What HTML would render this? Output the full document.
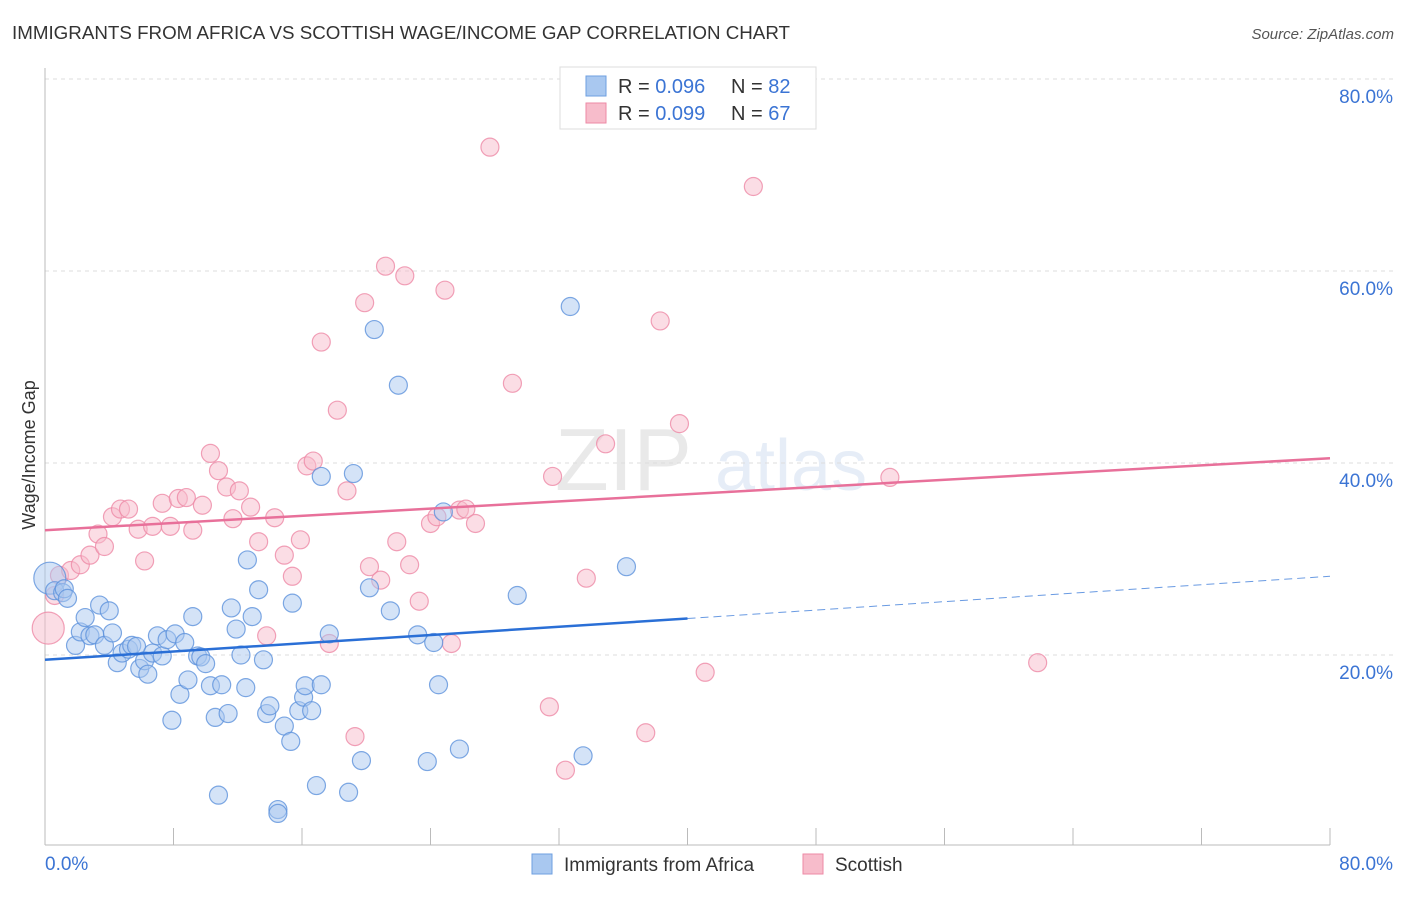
<!DOCTYPE html>
<html><head><meta charset="utf-8"><style>
body{margin:0;background:#fff;font-family:"Liberation Sans",sans-serif;}
svg text{font-family:"Liberation Sans",sans-serif;}
</style></head><body>
<svg id="chart" width="1406" height="892" viewBox="0 0 1406 892">
<text x="12" y="39" font-size="18" fill="#333" textLength="778" lengthAdjust="spacingAndGlyphs">IMMIGRANTS FROM AFRICA VS SCOTTISH WAGE/INCOME GAP CORRELATION CHART</text>
<text x="1394" y="39" font-size="15" fill="#555" font-style="italic" text-anchor="end">Source: ZipAtlas.com</text>
<g opacity="0.12"><text x="555" y="490" font-size="88" font-family="Liberation Serif" fill="#555">ZIP</text><text x="715" y="490" font-size="72" fill="#3b6fc0">atlas</text></g>
<g id="grid"></g><g id="axes"></g><g id="pts"></g><g id="lines"></g>
<text x="35" y="455" font-size="18" fill="#333" text-anchor="middle" transform="rotate(-90 35 455)">Wage/Income Gap</text>
<g>
<rect x="560" y="67" width="256" height="62" fill="#fff" stroke="#ddd"/>
<rect x="586" y="76" width="20" height="20" fill="#a9c8f0" stroke="#6e9fe0"/>
<rect x="586" y="103" width="20" height="20" fill="#f7bccb" stroke="#ee8aa6"/>
<text x="618" y="93" font-size="20" fill="#333">R = <tspan fill="#3b74d4">0.096</tspan></text>
<text x="731" y="93" font-size="20" fill="#333">N = <tspan fill="#3b74d4">82</tspan></text>
<text x="618" y="120" font-size="20" fill="#333">R = <tspan fill="#3b74d4">0.099</tspan></text>
<text x="731" y="120" font-size="20" fill="#333">N = <tspan fill="#3b74d4">67</tspan></text>
</g>
<g>
<rect x="532" y="854" width="20" height="20" fill="#a9c8f0" stroke="#6e9fe0"/>
<text x="564" y="871" font-size="19" fill="#333">Immigrants from Africa</text>
<rect x="803" y="854" width="20" height="20" fill="#f7bccb" stroke="#ee8aa6"/>
<text x="835" y="871" font-size="19" fill="#333">Scottish</text>
</g>
</svg>
<script>
const yTicks=[20,40,60,80];
const xLabels=["0.0%","80.0%"];
const blueX=[0.3,0.6,1.1,1.2,1.4,1.9,2.2,2.5,2.8,3.1,3.4,3.7,4.0,4.2,4.5,4.8,5.2,5.4,5.7,5.9,6.2,6.4,6.7,7.0,7.3,7.6,7.9,8.1,8.4,8.7,8.9,9.2,9.5,9.7,10.0,10.3,10.6,10.8,11.0,11.4,11.6,11.9,12.2,12.5,12.6,12.9,13.3,13.6,13.8,14.0,14.9,15.3,15.4,15.8,16.1,16.2,16.6,16.9,17.2,17.2,17.7,18.9,19.2,19.7,20.2,20.5,21.5,22.0,23.2,23.8,24.2,24.5,24.8,25.8,29.4,32.7,33.5,36.2,14.5,14.5];
const blueY=[28.0,26.7,26.5,26.9,25.9,21.0,22.4,23.9,22.0,22.1,25.2,21.0,24.6,22.3,19.2,20.2,20.6,21.0,20.9,18.6,19.4,18.0,20.2,22.0,19.9,21.6,13.2,22.2,15.9,21.3,17.4,24.0,19.9,19.8,19.1,16.8,13.5,5.4,16.9,13.9,24.9,22.7,20.0,16.6,29.9,24.0,26.8,19.5,13.9,14.7,12.6,11.0,25.4,14.2,15.6,16.8,14.2,6.4,16.9,38.6,22.2,5.7,38.9,9.0,27.0,53.9,24.6,48.1,22.1,8.9,21.3,16.9,34.9,10.2,26.2,56.3,9.5,29.2,3.9,3.5];
const pinkX=[0.2,0.6,0.9,1.6,2.2,2.8,3.3,3.7,4.2,4.7,5.2,5.8,6.2,6.7,7.3,7.8,8.3,8.8,9.2,9.8,10.3,10.8,11.3,11.7,12.1,12.8,13.3,13.8,14.3,14.9,15.4,15.9,16.3,16.7,17.2,17.7,18.2,18.8,19.3,19.9,20.2,20.9,21.2,21.9,22.4,22.7,23.3,24.0,24.4,24.9,25.3,25.8,26.2,26.8,27.7,29.1,31.4,31.6,32.4,33.7,34.9,37.4,38.3,39.5,41.1,44.1,52.6,61.8];
const pinkY=[22.8,26.2,28.3,28.8,29.4,30.4,32.6,31.3,34.4,35.2,35.2,33.1,29.8,33.4,35.8,33.4,36.3,36.4,33.0,35.6,41.0,39.2,37.5,34.2,37.1,35.4,31.8,22.0,34.3,30.4,28.2,32.0,39.7,40.2,52.6,21.2,45.5,37.1,11.5,56.7,29.2,27.8,60.5,31.8,59.5,29.4,25.6,33.7,34.4,58.0,21.2,35.1,35.2,33.7,72.9,48.3,14.6,38.6,8.0,28.0,42.0,11.9,54.8,44.1,18.2,68.8,38.5,19.2];
const blueFit=[19.5,23.8,28.2];
const pinkFit=[33.0,40.5];
const NS="http://www.w3.org/2000/svg";
const X=v=>45+v*1285/80, Y=v=>847-v*9.6;
function mk(t,a,p){const e=document.createElementNS(NS,t);for(const k in a)e.setAttribute(k,a[k]);document.getElementById(p).appendChild(e);return e;}
yTicks.forEach(t=>{
 const g=mk('line',{x1:45,x2:1393,y1:Y(t),y2:Y(t),stroke:'#ddd','stroke-dasharray':'4,4'},'grid');
 
 
 const l=mk('text',{x:1393,y:Y(t)+24,'font-size':19,fill:'#3b74d4','text-anchor':'end'},'axes');l.textContent=t.toFixed(1)+'%';
 
 
});
mk('line',{x1:45,x2:45,y1:68,y2:845,stroke:'#bbb'},'axes');
mk('line',{x1:45,x2:1330,y1:845,y2:845,stroke:'#bbb'},'axes');
for(let i=1;i<=10;i++){const tk=mk('line',{x1:X(i*8),x2:X(i*8),y1:828,y2:845,stroke:'#bbb'},'axes');
 
 }
const xl0=mk('text',{x:45,y:870,'font-size':19,fill:'#3b74d4'},'axes');xl0.textContent=xLabels[0];


const xl1=mk('text',{x:1393,y:870,'font-size':19,fill:'#3b74d4','text-anchor':'end'},'axes');xl1.textContent=xLabels[1];


function pts(xs,ys,fill,stroke,name){xs.forEach((x,i)=>{
 const c=mk('circle',{cx:X(x),cy:Y(ys[i]),r:i===0?16:9,fill:fill,'fill-opacity':0.5,stroke:stroke,'stroke-opacity':0.8,'stroke-width':1.2},'pts');
 
 });}
pts(pinkX,pinkY,'#f7bccb','#ee8aa6','scottish-point');
pts(blueX,blueY,'#a9c8f0','#5e92dc','africa-point');
const b1=mk('line',{x1:X(0),y1:Y(blueFit[0]),x2:X(40),y2:Y(blueFit[1]),stroke:'#2a6fd6','stroke-width':2.5},'lines');


const b2=mk('line',{x1:X(40),y1:Y(blueFit[1]),x2:X(80),y2:Y(blueFit[2]),stroke:'#2a6fd6','stroke-width':1,'stroke-dasharray':'8,5','stroke-opacity':0.7},'lines');


const p1=mk('line',{x1:X(0),y1:Y(pinkFit[0]),x2:X(80),y2:Y(pinkFit[1]),stroke:'#e8709a','stroke-width':2.5},'lines');


</script>
</body></html>
